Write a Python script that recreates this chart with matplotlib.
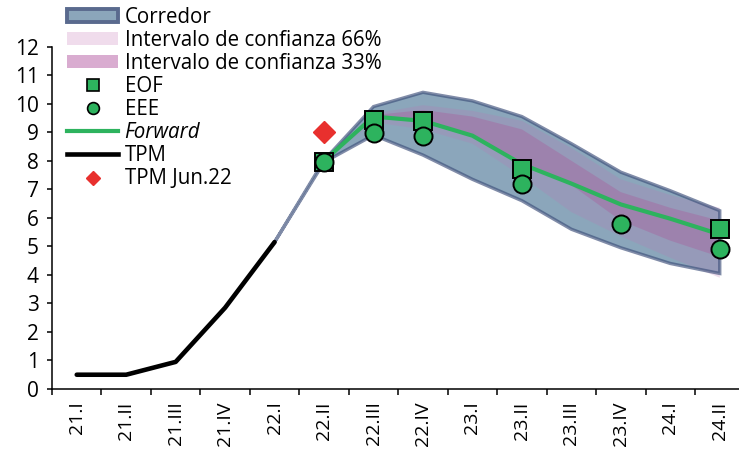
"""Policy rate corridor chart: TPM, forward curve, surveys and confidence bands."""

import matplotlib.pyplot as plt
import numpy as np
from matplotlib.lines import Line2D
from matplotlib.patches import Patch

plt.rcParams["font.family"] = ["Open Sans", "DejaVu Sans"]

QUARTERS = ["21.I", "21.II", "21.III", "21.IV", "22.I", "22.II", "22.III",
            "22.IV", "23.I", "23.II", "23.III", "23.IV", "24.I", "24.II"]

# TPM (quarterly average), 21.I .. 22.I
TPM = [0.5, 0.5, 0.95, 2.85, 5.15]

# Corridor, 22.I .. 24.II
CORR_UP = [5.15, 8.02, 9.9, 10.4, 10.1, 9.55, 8.6, 7.6, 6.95, 6.25]
CORR_LO = [5.15, 7.95, 8.9, 8.2, 7.35, 6.6, 5.6, 4.95, 4.4, 4.05]

# Confidence intervals, 22.II .. 24.II
CI66_UP = [8.0, 9.65, 9.95, 9.75, 9.4, 8.45, 7.35, 6.8, 6.35]
CI66_LO = [8.0, 9.35, 9.1, 8.6, 7.45, 6.2, 5.35, 4.6, 3.9]
CI33_UP = [8.0, 9.6, 9.78, 9.55, 9.1, 8.0, 6.9, 6.35, 5.9]
CI33_LO = [8.0, 9.45, 9.4, 8.88, 7.9, 7.15, 5.9, 5.2, 4.63]

# Forward curve, 22.II .. 24.II
FORWARD = [8.0, 9.55, 9.4, 8.88, 7.88, 7.2, 6.47, 5.97, 5.42]

# Surveys
EOF_Q = ["22.II", "22.III", "22.IV", "23.II", "24.II"]
EOF_V = [7.97, 9.43, 9.41, 7.72, 5.62]
EEE_Q = ["22.II", "22.III", "22.IV", "23.II", "23.IV", "24.II"]
EEE_V = [7.97, 8.97, 8.86, 7.2, 5.8, 4.92]

TPM_JUN_Q = "22.II"
TPM_JUN_V = 9.0

GREEN = "#2DB35E"
RED = "#E8302E"
CORR_FILL = "#8BA6BB"
CORR_EDGE = (0.24, 0.31, 0.48, 0.65)
CI66 = (0.72, 0.48, 0.71, 0.25)
CI33 = (0.66, 0.38, 0.62, 0.42)


def idx(labels):
    return [QUARTERS.index(q) for q in labels]


fig = plt.figure(figsize=(7.39, 4.51), dpi=100)
ax = fig.add_axes([52 / 739, 0.1375, (744.5 - 52) / 739, 0.759])

x_tpm = np.arange(len(TPM))
x_corr = np.arange(4, 4 + len(CORR_UP))
x_fc = np.arange(5, 5 + len(FORWARD))

ax.fill_between(x_corr, CORR_LO, CORR_UP, facecolor=CORR_FILL, edgecolor="none", zorder=1)
ax.fill_between(x_fc, CI66_LO, CI66_UP, facecolor=CI66, edgecolor="none", zorder=2)
ax.fill_between(x_fc, CI33_LO, CI33_UP, facecolor=CI33, edgecolor="none", zorder=3)
outline_x = np.concatenate([x_corr, x_corr[::-1], x_corr[:1]])
outline_y = np.concatenate([CORR_UP, CORR_LO[::-1], CORR_UP[:1]])
ax.plot(outline_x, outline_y, color=CORR_EDGE, lw=2.4, solid_joinstyle="miter", zorder=4)

ax.plot(x_tpm, TPM, color="black", lw=3.3, solid_capstyle="round", zorder=5)
ax.plot(x_fc, FORWARD, color=GREEN, lw=3.0, zorder=5)
ax.plot(idx(EOF_Q), EOF_V, ls="none", marker="s", ms=13, mfc=GREEN, mec="black", mew=1.4, zorder=6)
ax.plot(idx(EEE_Q), EEE_V, ls="none", marker="o", ms=13, mfc=GREEN, mec="black", mew=1.4, zorder=7)
ax.plot(idx([TPM_JUN_Q]), [TPM_JUN_V], ls="none", marker="D", ms=11, color=RED, zorder=6)

ax.set_xlim(-0.5, 13.5)
ax.set_ylim(0, 12)
ax.set_yticks(range(0, 13))
ax.set_xticks(range(len(QUARTERS)))
ax.set_xticklabels(QUARTERS, rotation=90)
ax.set_xticks(np.arange(-0.5, len(QUARTERS), 1), minor=True)
ax.tick_params(axis="x", which="major", length=0, pad=9, labelsize=14)
ax.tick_params(axis="x", which="minor", length=4.5, width=1.1, direction="out")
ax.tick_params(axis="y", length=3.5, width=1.1, direction="out", pad=6, labelsize=15)
for side in ("top", "right"):
    ax.spines[side].set_visible(False)
for side in ("left", "bottom"):
    ax.spines[side].set_linewidth(1.1)

# legend patches drawn opaque so they read like the reference swatches
handles = [
    Patch(facecolor=CORR_FILL, edgecolor="#5A6A8E", lw=2.8),
    Patch(facecolor="#F0DCEC", edgecolor="none"),
    Patch(facecolor="#D9ACD0", edgecolor="none"),
    Line2D([], [], ls="none", marker="s", ms=8.5, mfc=GREEN, mec="black", mew=1.2),
    Line2D([], [], ls="none", marker="o", ms=8.5, mfc=GREEN, mec="black", mew=1.2),
    Line2D([], [], color=GREEN, lw=3.0),
    Line2D([], [], color="black", lw=3.3),
    Line2D([], [], ls="none", marker="D", ms=7, color=RED),
]
labels = ["Corredor", "Intervalo de confianza 66%", "Intervalo de confianza 33%",
          "EOF", "EEE", "Forward", "TPM", "TPM Jun.22"]
leg = fig.legend(handles, labels, loc="upper left", bbox_to_anchor=(67 / 739, 1 - 7 / 451),
                 frameon=False, fontsize=14.8, borderpad=0, borderaxespad=0,
                 handlelength=2.5, handleheight=0.6, handletextpad=0.3, labelspacing=0.1)
leg.get_texts()[5].set_style("italic")

fig.savefig("out.png", dpi=100)
